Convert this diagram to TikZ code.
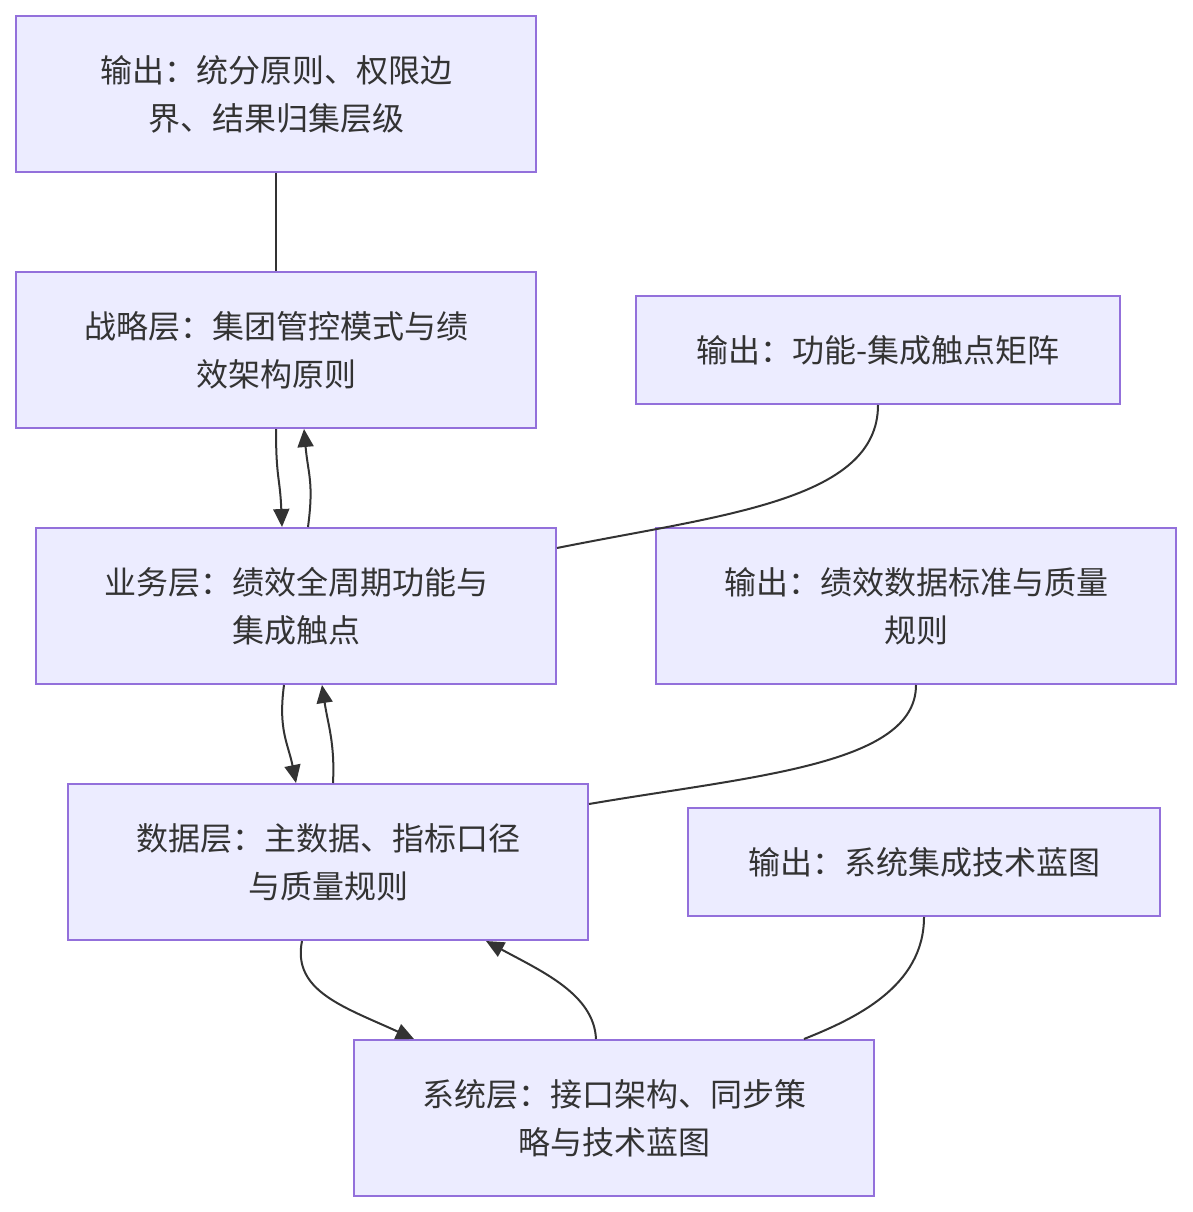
\documentclass[tikz,border=0pt]{standalone}
\usepackage{fontspec}
\newfontfamily\cjk{Noto Sans CJK SC}
\usetikzlibrary{arrows.meta}
\definecolor{boxfill}{HTML}{ECECFF}
\definecolor{boxline}{HTML}{9370DB}
\definecolor{ink}{HTML}{333333}
\begin{document}
\begin{tikzpicture}[x=1pt,y=-1pt,
  box/.style={draw=boxline,fill=boxfill,line width=2pt,inner sep=0pt,
    text=ink,align=center,font=\cjk\fontsize{32}{48}\selectfont},
  wide/.style={box,minimum width=520pt,minimum height=156pt},
  slim/.style={box,minimum height=108pt},
  link/.style={draw=ink,line width=2pt},
  flow/.style={link,-{Triangle[length=18pt,width=16pt]}}]
\useasboundingbox (0,0) rectangle (1192,1212);
\node[wide] (A) at (276,94) {输出：统分原则、权限边\\界、结果归集层级};
\node[wide] (S) at (276,350) {战略层：集团管控模式与绩\\效架构原则};
\node[slim,minimum width=484pt] (O1) at (878,350) {输出：功能-集成触点矩阵};
\node[wide] (B) at (296,606) {业务层：绩效全周期功能与\\集成触点};
\node[wide] (O2) at (916,606) {输出：绩效数据标准与质量\\规则};
\node[wide] (D) at (328,862) {数据层：主数据、指标口径\\与质量规则};
\node[slim,minimum width=472pt] (O3) at (924,862) {输出：系统集成技术蓝图};
\node[wide] (Y) at (614,1118) {系统层：接口架构、同步策\\略与技术蓝图};
% plain links
\draw[link] (A.south) -- (S.north);
\draw[link] (O1.south) .. controls +(0,96) and +(164,-33) .. ([yshift=58pt]B.east);
\draw[link] (O2.south) .. controls +(0,80) and +(164,-28) .. ([yshift=58pt]D.east);
\draw[link] (O3.south) .. controls +(0,70) and +(50,-20) .. ([xshift=190pt]Y.north);
% arrows
\draw[flow] (S.south) .. controls +(0,50) and +(-2,-50) .. ([xshift=-14pt]B.north);
\draw[flow] ([xshift=12pt]B.north) .. controls +(6,-45) and +(4,45) .. ([xshift=28pt]S.south);
\draw[flow] ([xshift=-12pt]B.south) .. controls +(-6,45) and +(-8,-40) .. ([xshift=-32pt]D.north);
\draw[flow] ([xshift=5pt]D.north) .. controls +(2,-40) and +(6,40) .. ([xshift=26pt]B.south);
\draw[flow] ([xshift=-26pt]D.south) .. controls +(-10,50) and +(-70,-32) .. ([xshift=-200pt]Y.north);
\draw[flow] ([xshift=-18pt]Y.north) .. controls +(-2,-45) and +(55,30) .. ([xshift=158pt]D.south);
\end{tikzpicture}
\end{document}
